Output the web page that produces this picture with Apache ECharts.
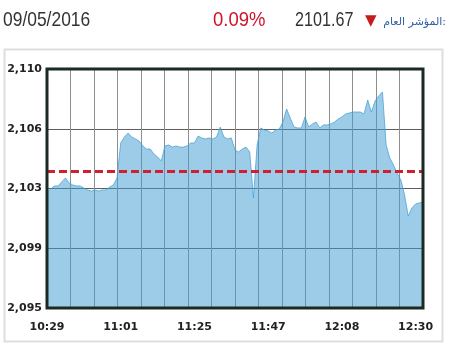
<!DOCTYPE html>
<html>
<head>
<meta charset="utf-8">
<script src="https://cdn.jsdelivr.net/npm/echarts@6/dist/echarts.min.js"></script>
<style>
html,body{margin:0;padding:0;background:#fff;}
#chart{width:450px;height:350px;}
</style>
</head>
<body>
<div id="chart"></div>
<script>
// ---- data ----
const dateLabel = '09/05/2016';
const changeLabel = '0.09%';
const indexValueLabel = '2101.67';
const indexTitle = 'المؤشر العام:';
const prevClose = 2103.56;
const timeLabels = ['10:29', '11:01', '11:25', '11:47', '12:08', '12:30'];
const labelStep = 20; // data points between time labels
const yTickValues = [2095, 2098.75, 2102.5, 2106.25, 2110];
const indexValues = [
  2102.28, 2102.47, 2102.66, 2102.66, 2102.91, 2103.16, 2102.85, 2102.72, 2102.66, 2102.66,
  2102.53, 2102.41, 2102.34, 2102.41, 2102.34, 2102.41, 2102.41, 2102.59, 2102.72, 2103.16,
  2105.36, 2105.73, 2105.98, 2105.73, 2105.61, 2105.48, 2105.17, 2104.98, 2104.98, 2104.67,
  2104.48, 2104.23, 2105.17, 2105.23, 2105.10, 2105.17, 2105.10, 2105.10, 2105.17, 2105.36,
  2105.36, 2105.79, 2105.67, 2105.61, 2105.67, 2105.61, 2105.73, 2106.36, 2105.73, 2105.61,
  2105.67, 2104.92, 2104.79, 2104.98, 2105.10, 2104.79, 2101.90, 2105.23, 2106.30, 2106.17,
  2106.11, 2105.98, 2106.17, 2106.23, 2106.67, 2107.49, 2106.92, 2106.36, 2106.30, 2106.30,
  2106.99, 2106.36, 2106.55, 2106.67, 2106.30, 2106.49, 2106.49, 2106.55, 2106.67, 2106.86,
  2106.99, 2107.18, 2107.24, 2107.30, 2107.30, 2107.30, 2107.18, 2108.05, 2107.30, 2107.99,
  2108.31, 2108.56, 2105.23, 2104.41, 2103.97, 2103.47, 2103.03, 2102.09, 2100.77, 2101.28,
  2101.53, 2101.59, 2101.67
];

// ---- chart ----
const BASE = yTickValues[0];
const yStep = yTickValues[1] - yTickValues[0];
const yRange = yTickValues[yTickValues.length - 1] - BASE;

const G = {left: 47, top: 69, right: 27, bottom: 42};
const W = 450, H = 350;

function fmtThousands(n) {
  return String(n).replace(/\B(?=(\d{3})+(?!\d))/g, ',');
}

const chart = echarts.init(document.getElementById('chart'), null, {renderer: 'canvas'});
const option = {
  animation: false,
  backgroundColor: '#ffffff',
  grid: {left: G.left, top: G.top, right: G.right, bottom: G.bottom, containLabel: false},
  xAxis: [
    {
      type: 'value', min: 0, max: indexValues.length - 1, interval: labelStep,
      axisLine: {show: false}, axisTick: {show: false}, splitLine: {show: false},
      axisLabel: {
        margin: 14, color: '#222', fontFamily: 'DejaVu Sans', fontWeight: 'bold', fontSize: 11,
        showMinLabel: true, showMaxLabel: true,
        formatter: function (v) {
          if (v % labelStep !== 0) return '';
          const t = timeLabels[v / labelStep];
          return t === undefined ? '' : t;
        }
      }
    },
    {
      type: 'value', position: 'top', min: 0, max: 16, interval: 1,
      axisLine: {show: false}, axisTick: {show: false}, axisLabel: {show: false},
      splitLine: {show: true, lineStyle: {color: '#8e8e8e', width: 1}}
    }
  ],
  yAxis: {
    type: 'value', min: 0, max: yRange, interval: yStep,
    axisLine: {show: false}, axisTick: {show: false},
    splitLine: {show: true, lineStyle: {color: '#5e5e5e', width: 1}},
    axisLabel: {
      margin: 5, color: '#222', fontFamily: 'DejaVu Sans', fontWeight: 'bold', fontSize: 11,
      formatter: function (v) { return fmtThousands(Math.round(v + BASE)); }
    }
  },
  series: [{
    type: 'line',
    xAxisIndex: 0,
    data: indexValues.map((v, i) => [i, +(v - BASE).toFixed(4)]),
    symbol: 'none',
    showSymbol: false,
    lineStyle: {width: 1, color: 'rgba(70,160,212,0.75)'},
    areaStyle: {color: 'rgba(66,156,210,0.74)', origin: 'start'},
    markLine: {
      silent: true,
      symbol: ['none', 'none'],
      label: {show: false},
      lineStyle: {color: '#d11f2f', type: [8, 4], width: 3},
      data: [{yAxis: +(prevClose - BASE).toFixed(4)}]
    }
  }],
  graphic: [
    {
      type: 'rect', z: 0, silent: true,
      shape: {x: 4.5, y: 49.5, width: 438, height: 292},
      style: {fill: 'none', stroke: '#dedede', lineWidth: 2}
    },
    {
      type: 'rect', z: 100, silent: true,
      shape: {x: G.left, y: G.top, width: W - G.left - G.right, height: H - G.top - G.bottom},
      style: {fill: 'none', stroke: '#1b2a22', lineWidth: 3}
    },
    {
      type: 'text', x: 3, y: 20, scaleX: 0.83, silent: true,
      style: {text: dateLabel, fill: '#333', font: '21px "Liberation Sans", Arial, sans-serif', textAlign: 'left', textVerticalAlign: 'middle'}
    },
    {
      type: 'text', x: 213, y: 20, scaleX: 0.88, silent: true,
      style: {text: changeLabel, fill: '#d0142c', font: '21px "Liberation Sans", Arial, sans-serif', textAlign: 'left', textVerticalAlign: 'middle'}
    },
    {
      type: 'text', x: 295, y: 20, scaleX: 0.77, silent: true,
      style: {text: indexValueLabel, fill: '#333', font: '21px "Liberation Sans", Arial, sans-serif', textAlign: 'left', textVerticalAlign: 'middle'}
    },
    {
      type: 'text', x: 365, y: 21, silent: true,
      style: {text: '▼', fill: '#c41b1b', font: '15px "DejaVu Sans", sans-serif', textAlign: 'left', textVerticalAlign: 'middle'}
    },
    {
      type: 'text', x: 446, y: 22, silent: true,
      style: {text: indexTitle, fill: '#2f5ea8', font: '11px "DejaVu Sans", sans-serif', textAlign: 'right', textVerticalAlign: 'middle'}
    }
  ]
};
chart.setOption(option);
</script>
</body>
</html>
